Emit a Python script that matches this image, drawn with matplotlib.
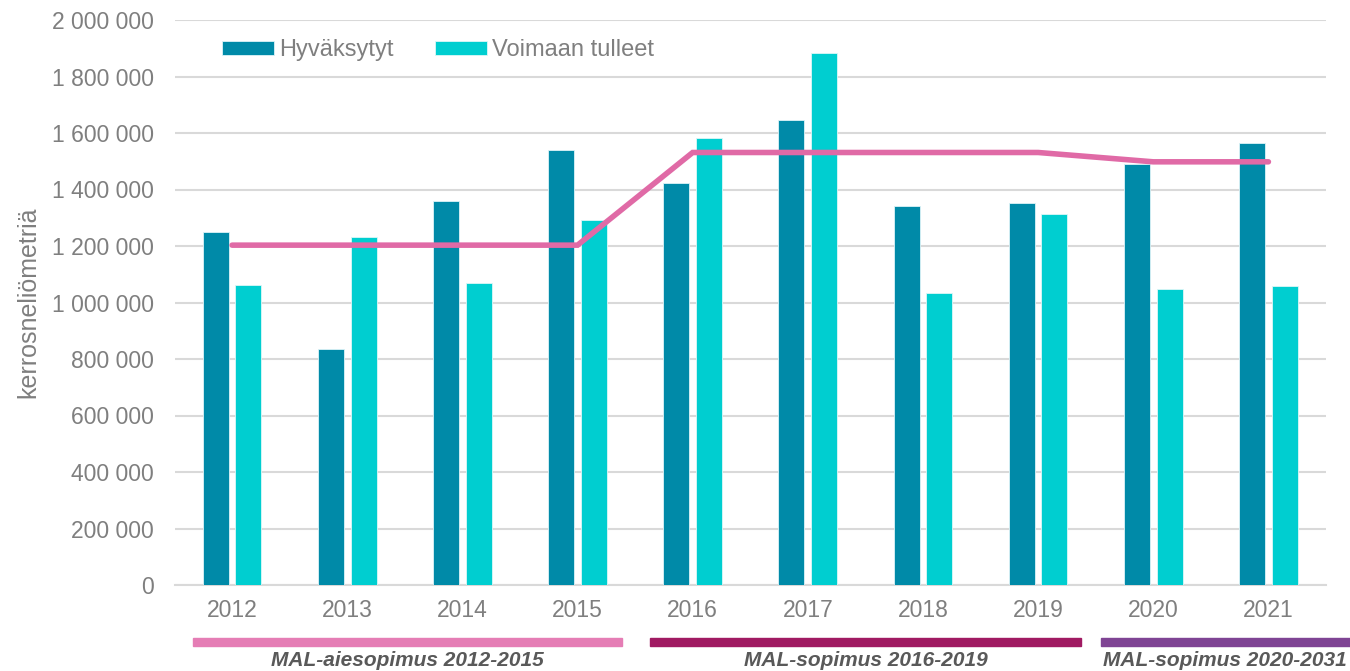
import matplotlib
matplotlib.use("Agg")
import matplotlib.pyplot as plt
import matplotlib.transforms as mtransforms
from matplotlib.patches import Rectangle
import numpy as np

plt.rcParams['font.family'] = ['Liberation Sans', 'DejaVu Sans']

years = ['2012', '2013', '2014', '2015', '2016', '2017', '2018', '2019', '2020', '2021']
hyvaksytyt = [1248000, 834000, 1358000, 1540000, 1423000, 1646000, 1343000, 1352000, 1491000, 1563000]
voimaan = [1062000, 1231000, 1070000, 1291000, 1582000, 1884000, 1034000, 1314000, 1047000, 1058000]
tavoite = [1203000, 1203000, 1203000, 1203000, 1531000, 1531000, 1531000, 1531000, 1498000, 1498000]
yticks = [0, 200000, 400000, 600000, 800000, 1000000, 1200000, 1400000, 1600000, 1800000, 2000000]
periods = [('MAL-aiesopimus 2012-2015', -0.34, 3.39, '#E57DB5'),
           ('MAL-sopimus 2016-2019', 3.63, 7.37, '#A01A62'),
           ('MAL-sopimus 2020-2031', 7.55, 9.72, '#7F4494')]
label_x = [1.525, 5.5, 8.62]

W, H = 1350, 671
fig = plt.figure(figsize=(W / 100, H / 100), dpi=100)
ax_w = 1326 - 174.5
ax = fig.add_axes([174.5 / W, 1 - 585 / H, ax_w / W, (585 - 20) / H])

x = np.arange(len(years))
bw = 0.226
off = 0.142
c_h = '#008AA8'
c_v = '#00CED0'
ax.bar(x - off, hyvaksytyt, bw, color=c_h, edgecolor='#DDF3F7', linewidth=0.6, label='Hyväksytyt', zorder=3)
ax.bar(x + off, voimaan, bw, color=c_v, edgecolor='#DDF7F7', linewidth=0.6, label='Voimaan tulleet', zorder=3)
ax.plot(x, tavoite, color='#E06AA6', linewidth=4, solid_capstyle='round', solid_joinstyle='miter', zorder=4)

ax.set_xlim(-0.5, 9.5)
ax.set_ylim(0, 2000000)
ax.set_yticks(yticks)
ax.set_yticklabels([f'{v:,}'.replace(',', ' ') for v in yticks])
ax.set_xticks(x)
ax.set_xticklabels(years)
tick_color = '#7F7F7F'
ax.tick_params(axis='both', length=0, labelsize=16.5, colors=tick_color)
ax.tick_params(axis='y', pad=15)
ax.tick_params(axis='x', pad=10)
ax.grid(axis='y', color='#D9D9D9', linewidth=1.5, zorder=0)
ax.set_axisbelow(True)
for s in ['top', 'right', 'left']:
    ax.spines[s].set_visible(False)
ax.spines['bottom'].set_color('#D9D9D9')
ax.spines['bottom'].set_linewidth(1.5)

ax.set_ylabel('kerrosneliömetriä', fontsize=18, color=tick_color)
ax.yaxis.label.set_va('center')
ax.yaxis.set_label_coords((28 - 174.5) / ax_w, 0.5)

leg = ax.legend(loc='upper left', bbox_to_anchor=(0.027, 0.995), ncol=2, frameon=False,
                fontsize=17, handlelength=2.2, handleheight=0.55, columnspacing=1.75,
                handletextpad=0.22, borderaxespad=0.3)
for t in leg.get_texts():
    t.set_color('#7F7F7F')

trans = mtransforms.blended_transform_factory(ax.transData, fig.transFigure)
for (label, x0, x1, col), lx in zip(periods, label_x):
    r = Rectangle((x0, 1 - 645.5 / H), x1 - x0, 8 / H, transform=trans, color=col,
                  clip_on=False)
    fig.add_artist(r)
    fig.text(lx, 1 - 660 / H, label, transform=trans, fontsize=15, fontstyle='italic',
             fontweight='bold', color='#595959', ha='center', va='center')

fig.savefig('out.png', dpi=100, facecolor='white')
